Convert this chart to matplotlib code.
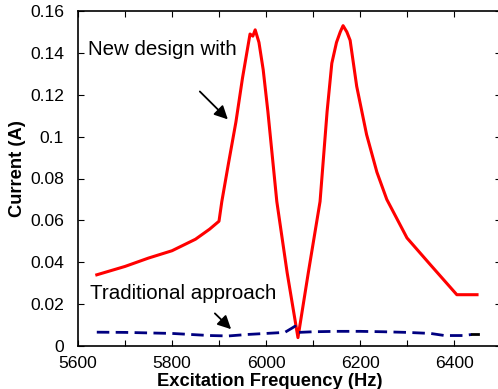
import numpy as np
import matplotlib.pyplot as plt

plt.rcParams.update({
    "font.family": ["Liberation Sans", "DejaVu Sans"],
    "font.size": 13,
})

# New design (red) - frequency in Hz, current in A
freq_new = [5640, 5700, 5750, 5800, 5850, 5880, 5900, 5906, 5920, 5936, 5950,
            5966, 5972, 5977, 5985, 5994, 6004, 6023, 6045, 6068, 6090, 6115,
            6130, 6140, 6150, 6158, 6164, 6172, 6179, 6193, 6214, 6236, 6257,
            6300, 6349, 6406, 6449]
cur_new = [0.034, 0.038, 0.042, 0.0455, 0.051, 0.0558, 0.0596, 0.069, 0.087,
           0.107, 0.128, 0.149, 0.148, 0.151, 0.145, 0.132, 0.112, 0.069, 0.035,
           0.004, 0.035, 0.069, 0.112, 0.135, 0.145, 0.150, 0.153, 0.150, 0.146,
           0.124, 0.101, 0.083, 0.070, 0.0516, 0.039, 0.0245, 0.0245]

# Traditional approach (blue dashed)
freq_trad = [5640, 5700, 5800, 5880, 5920, 5960, 6000, 6040, 6055, 6062, 6070,
             6100, 6150, 6200, 6250, 6300, 6350, 6380, 6420, 6438]
cur_trad = [0.0066, 0.0065, 0.006, 0.005, 0.0048, 0.0055, 0.006, 0.0065,
            0.0085, 0.0095, 0.0065, 0.0068, 0.007, 0.007, 0.0068, 0.0065,
            0.006, 0.005, 0.005, 0.0055]
freq_tail = [6438, 6450]
cur_tail = [0.0057, 0.0057]

fig = plt.figure(figsize=(4.98, 3.89), dpi=100)
ax = fig.add_axes([78 / 498, 1 - 346 / 389, 423 / 498, 335 / 389])

ax.plot(freq_new, cur_new, color="#ff0000", lw=2.2)
ax.plot(freq_trad, cur_trad, color="#000080", lw=2.0, dashes=(4.5, 2.3))
ax.plot(freq_tail, cur_tail, color="black", lw=2.0)

ax.set_xlim(5600, 6500)
ax.set_ylim(0, 0.16)
ax.set_xticks(np.arange(5600, 6401, 200))
ax.set_xticks(np.arange(5600, 6501, 100), minor=True)
ax.set_yticks(np.arange(0, 0.161, 0.02))
ax.set_yticklabels(["0", "0.02", "0.04", "0.06", "0.08", "0.1", "0.12", "0.14", "0.16"])
ax.tick_params(which="both", direction="in", top=True, right=True, length=4,
               labelsize=12.6, width=0.8)
ax.tick_params(axis="y", pad=10)
ax.tick_params(axis="x", pad=7)
ax.tick_params(which="minor", labelbottom=False)
for s in ax.spines.values():
    s.set_linewidth(1.2)

ax.annotate("New design with", xy=(0.024, 0.885), xycoords="axes fraction",
            fontsize=14.8, ha="left", va="center")
ax.annotate("", xy=(5923, 0.1073), xytext=(5855, 0.1225),
            arrowprops=dict(arrowstyle="-|>", color="black", lw=1.3, mutation_scale=20))

ax.annotate("Traditional approach", xy=(0.028, 0.158), xycoords="axes fraction",
            fontsize=14.8, ha="left", va="center")
ax.annotate("", xy=(5930, 0.0071), xytext=(5887, 0.0165),
            arrowprops=dict(arrowstyle="-|>", color="black", lw=1.3, mutation_scale=20))

fig.text(270 / 498, 1 - 381 / 389, "Excitation Frequency (Hz)", fontsize=13.2,
         fontweight="bold", ha="center", va="center")
fig.text(18 / 498, 1 - 169 / 389, "Current (A)", fontsize=13.2, fontweight="bold",
         ha="center", va="center", rotation=90)

fig.savefig("out.png", dpi=100)
